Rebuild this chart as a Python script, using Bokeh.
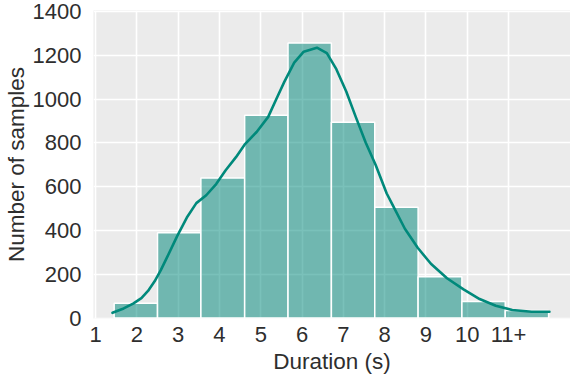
from bokeh.plotting import figure
from bokeh.models import Range1d, FixedTicker, ColumnDataSource
from bokeh.embed import file_html
from bokeh.resources import INLINE

# ---- data ----
bin_edges = [1.45, 2.50, 3.55, 4.61, 5.66, 6.71, 7.76, 8.81, 9.87, 10.92, 11.97]
counts = [68, 390, 640, 926, 1257, 894, 506, 189, 76, 35]

kde_x = [1.41, 1.68, 1.91, 2.11, 2.27, 2.43, 2.58, 2.73, 2.97, 3.21, 3.44, 3.68,
         3.92, 4.15, 4.40, 4.62, 4.90, 5.18, 5.40, 5.57, 5.81, 6.04, 6.36, 6.60,
         6.83, 7.07, 7.30, 7.54, 7.78, 8.05, 8.17, 8.49, 8.80, 9.12, 9.51, 9.91,
         10.30, 10.69, 11.09, 11.56, 11.99]
kde_y = [24, 44, 66, 91, 124, 168, 219, 277, 372, 459, 525, 561,
         612, 675, 735, 795, 850, 919, 1010, 1079, 1167, 1217, 1235, 1210,
         1137, 1035, 919, 802, 700, 569, 525, 408, 321, 248, 182, 131,
         87, 56, 37, 29, 29]

x_ticks = [1, 2, 3, 4, 5, 6, 7, 8, 9, 10, 11]
x_tick_labels = ["1", "2", "3", "4", "5", "6", "7", "8", "9", "10", "11+"]
y_ticks = [0, 200, 400, 600, 800, 1000, 1200, 1400]

x_title = "Duration (s)"
y_title = "Number of samples"

TEAL = "#00897b"
TEXT = "#2e2e2e"
FONT = "Liberation Sans"

bars = ColumnDataSource(dict(left=bin_edges[:-1], right=bin_edges[1:], top=counts,
                             bottom=[0] * len(counts)))
kde = ColumnDataSource(dict(x=kde_x, y=kde_y))

p = figure(width=570, height=376, output_backend="svg", toolbar_location=None,
           x_range=Range1d(0.95, 12.5), y_range=Range1d(-2, 1405),
           min_border_left=89, min_border_right=0, min_border_top=10,
           min_border_bottom=58)

p.background_fill_color = "#ebebeb"
p.border_fill_color = "white"
p.outline_line_color = None

p.quad(left="left", right="right", top="top", bottom="bottom", source=bars,
       fill_color=TEAL, fill_alpha=0.52, line_color="white", line_width=1.5)
p.line(x="x", y="y", source=kde, line_color=TEAL, line_width=2.6,
       line_join="round", line_cap="round")

p.xaxis.ticker = FixedTicker(ticks=x_ticks)
p.xaxis.major_label_overrides = {t: l for t, l in zip(x_ticks, x_tick_labels)}
p.yaxis.ticker = FixedTicker(ticks=y_ticks)

for ax in (p.xaxis, p.yaxis):
    ax.axis_line_color = None
    ax.major_tick_line_color = None
    ax.minor_tick_line_color = None
    ax.major_tick_out = 0
    ax.major_tick_in = 0
    ax.major_label_text_font = FONT
    ax.major_label_text_font_size = "22px"
    ax.major_label_text_color = TEXT
    ax.axis_label_text_font = FONT
    ax.axis_label_text_font_size = "22.5px"
    ax.axis_label_text_font_style = "normal"
    ax.axis_label_text_color = TEXT

p.xaxis.axis_label = x_title
p.yaxis.axis_label = y_title
p.xaxis.major_label_standoff = 8
p.xaxis.axis_label_standoff = 4
p.yaxis.major_label_standoff = 12
p.yaxis.axis_label_standoff = 1

p.xgrid.ticker = FixedTicker(ticks=x_ticks)
p.ygrid.ticker = FixedTicker(ticks=y_ticks)
for g in (p.xgrid, p.ygrid):
    g.grid_line_color = "white"
    g.grid_line_width = 1.6
    g.minor_grid_line_color = None

open("out.html", "w").write(file_html(p, INLINE))
